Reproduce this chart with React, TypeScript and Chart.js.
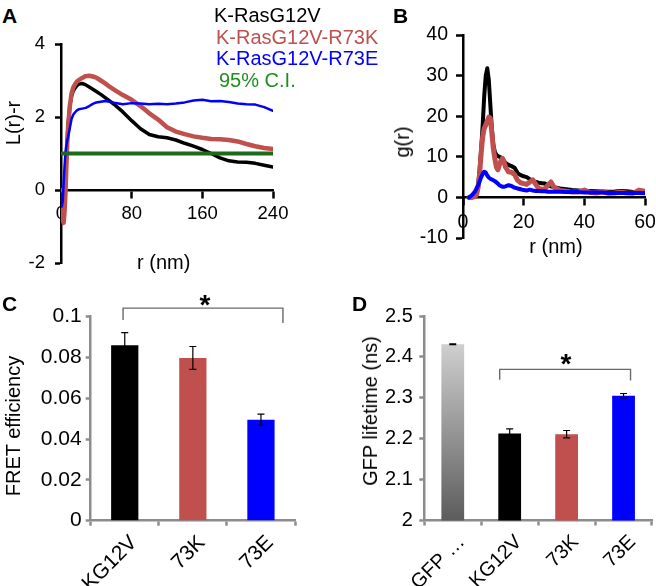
import React, { useEffect, useRef } from 'react';
import { Chart, registerables } from 'chart.js';
Chart.register(...registerables);

const FONT = '"Liberation Sans", Arial, Helvetica, sans-serif';

// ---------- Panel A : L(r)-r ----------
const rA = [0, 1, 2, 3, 4, 5, 6, 7, 8, 10, 12, 14, 16, 18, 20, 24, 28, 32, 36, 40, 45, 50, 55, 60, 70, 80, 90, 100, 110, 120, 130, 140, 150, 160, 170, 180, 190, 200, 210, 220, 230, 240];
const lrBlack = [0, -0.3, -0.6, -0.7, -0.4, 0.2, 0.8, 1.35, 1.8, 2.3, 2.58, 2.72, 2.8, 2.86, 2.9, 2.92, 2.88, 2.82, 2.76, 2.7, 2.62, 2.53, 2.44, 2.35, 2.14, 1.9, 1.68, 1.52, 1.46, 1.43, 1.37, 1.28, 1.2, 1.11, 1.0, 0.88, 0.8, 0.77, 0.76, 0.73, 0.68, 0.63];
const lrRed = [0, -0.35, -0.8, -0.9, -0.6, -0.1, 0.6, 1.25, 1.7, 2.3, 2.65, 2.82, 2.9, 2.97, 3.01, 3.07, 3.12, 3.13, 3.11, 3.08, 3.0, 2.92, 2.83, 2.75, 2.6, 2.47, 2.3, 2.1, 1.93, 1.72, 1.6, 1.53, 1.47, 1.43, 1.4, 1.39, 1.37, 1.33, 1.26, 1.2, 1.15, 1.12];
const lrBlue = [-0.1, -0.45, -0.3, 0.2, 0.65, 1.0, 1.2, 1.35, 1.45, 1.7, 1.95, 2.07, 2.13, 2.18, 2.21, 2.23, 2.25, 2.3, 2.36, 2.4, 2.42, 2.44, 2.42, 2.39, 2.35, 2.38, 2.37, 2.35, 2.36, 2.35, 2.37, 2.4, 2.45, 2.47, 2.43, 2.44, 2.41, 2.37, 2.35, 2.34, 2.27, 2.17];
const ciR = [0, 240];
const ciVal = [1, 1];
const legendNames = ['K-RasG12V', 'K-RasG12V-R73K', 'K-RasG12V-R73E', '95% C.I.'];
const xTicksA = [0, 80, 160, 240];

// ---------- Panel B : g(r) ----------
const rB = [2, 3, 4, 4.5, 5, 5.5, 6, 6.5, 7, 7.5, 8, 8.5, 9, 9.5, 10, 10.5, 11, 11.5, 12, 12.5, 13, 13.5, 14, 15, 16, 17, 18, 19, 20, 21, 22, 23, 24, 25, 26, 27, 28, 29, 30, 32, 34, 36, 38, 40, 42, 44, 46, 48, 50, 52, 54, 56, 58, 60];
const gBlack = [0, 0, 0.3, 1, 3, 7, 12, 18, 25, 30, 31.8, 29, 23, 17, 13, 11.2, 10.5, 10.2, 10, 9.8, 9.6, 9.0, 8.5, 8, 7.7, 7.3, 6, 5.5, 5.2, 5, 4.5, 4, 3.8, 3.6, 3.5, 3.4, 3, 2.7, 2.5, 2.2, 2.0, 1.8, 1.7, 1.6, 1.55, 1.5, 1.45, 1.4, 1.45, 1.6, 1.5, 1.35, 1.3, 1.25];
const gRed = [0, 0, 0.2, 0.8, 2.5, 6, 11, 15, 17, 17.8, 18.8, 19.8, 19.5, 16, 12, 9.5, 7.5, 6.8, 8, 9.0, 9.6, 8.8, 7.5, 6.3, 6.2, 5.6, 4.2, 3.6, 3.4, 3.2, 3.8, 4.3, 3.2, 2.2, 2.0, 2.1, 3.0, 3.8, 2.5, 1.7, 1.5, 1.3, 1.3, 1.8, 1.2, 1.1, 1.4, 1.0, 1.1, 1.3, 1.1, 1.0, 1.8, 1.5];
const gBlue = [0, 0.6, 1.5, 2.3, 3, 4, 5, 5.8, 6.3, 6.1, 5.4, 4.9, 4.6, 4.4, 4.2, 4.0, 3.7, 3.4, 3.0, 2.8, 2.6, 2.6, 2.7, 3.0, 2.8, 2.4, 2.2, 2.0, 1.8, 1.7, 1.9, 1.7, 1.6, 1.6, 1.5, 1.5, 1.4, 1.4, 1.4, 1.4, 1.3, 1.3, 1.3, 1.2, 1.2, 1.2, 1.2, 1.1, 1.1, 1.1, 1.1, 1.1, 1.1, 1.0];
const xTicksB = [0, 20, 40, 60];

// ---------- Panel C : FRET efficiency ----------
const fretCats = ['KG12V', '73K', '73E'];
const fretVals = [0.086, 0.0798, 0.0495];
const fretErr = [0.0062, 0.0056, 0.0027];

// ---------- Panel D : GFP lifetime ----------
const lifeCats = ['GFP …', 'KG12V', '73K', '73E'];
const lifeVals = [2.431, 2.213, 2.211, 2.305];
const lifeErr = [0.001, 0.011, 0.009, 0.0055];

const BLACK = '#000000';
const RED = '#c0504d';
const BLUE = '#0000ff';
const GREEN_LINE = '#1b6b1b';
const GREEN_TEXT = '#1f8f1f';
const GRAY_AXIS = '#8c8c8c';

const pts = (xs: number[], ys: number[]) => xs.map((x, i) => ({ x, y: ys[i] }));
const fmt = (v: any) => String(Number(Number(v).toFixed(4)));

const errorBarPlugin = {
  id: 'errbars',
  afterDatasetsDraw(chart: any, _args: any, opts: any) {
    const errs: number[] = opts.errors;
    if (!errs) return;
    const meta = chart.getDatasetMeta(0);
    const ys = chart.scales.y;
    const vals = chart.data.datasets[0].data;
    const ctx = chart.ctx;
    const cap = opts.cap || 3.5;
    ctx.save();
    ctx.strokeStyle = '#000';
    ctx.lineWidth = opts.lineWidth || 1.2;
    meta.data.forEach((el: any, i: number) => {
      const v = vals[i];
      const yt = ys.getPixelForValue(v + errs[i]);
      const yb = ys.getPixelForValue(v - errs[i]);
      ctx.beginPath();
      ctx.moveTo(el.x, yt); ctx.lineTo(el.x, yb);
      ctx.moveTo(el.x - cap, yt); ctx.lineTo(el.x + cap, yt);
      ctx.moveTo(el.x - cap, yb); ctx.lineTo(el.x + cap, yb);
      ctx.stroke();
    });
    ctx.restore();
  },
};

const bracketPlugin = {
  id: 'bracket',
  afterDraw(chart: any, _args: any, o: any) {
    if (!o || o.from === undefined) return;
    const meta = chart.getDatasetMeta(0);
    const ys = chart.scales.y;
    const x1 = meta.data[o.from].x + o.dxLeft;
    const x2 = meta.data[o.to].x + o.dxRight;
    const yTop = ys.getPixelForValue(o.top);
    const yL = ys.getPixelForValue(o.leftEnd);
    const yR = ys.getPixelForValue(o.rightEnd);
    const ctx = chart.ctx;
    ctx.save();
    ctx.strokeStyle = '#6a6a6a';
    ctx.lineWidth = 1.4;
    ctx.beginPath();
    ctx.moveTo(x1, yL); ctx.lineTo(x1, yTop); ctx.lineTo(x2, yTop); ctx.lineTo(x2, yR);
    ctx.stroke();
    ctx.restore();
  },
};

const noPadX = (s: any) => { s.paddingLeft = 0; s.paddingRight = 0; };
const noPadY = (s: any) => { s.paddingTop = 0; s.paddingBottom = 0; };

function lineAxes(opts: any) {
  const tickFont = { family: FONT, size: opts.fontSize };
  return {
    x: {
      type: 'linear', min: opts.xMin, max: opts.xMax, position: { y: 0 },
      afterBuildTicks: (s: any) => { s.ticks = opts.xTicks.map((v: number) => ({ value: v })); },
      ticks: { font: tickFont, color: '#000', padding: opts.xPad, maxRotation: 0, callback: fmt },
      grid: { display: true, drawOnChartArea: false, drawTicks: true, tickLength: 7, tickWidth: 2.5, tickColor: '#000' },
      border: { display: true, color: '#000', width: 2.5 },
      afterFit: noPadX,
    },
    y: {
      type: 'linear', min: opts.yMin, max: opts.yMax,
      ticks: { stepSize: opts.yStep, font: tickFont, color: '#000', padding: opts.yPad, callback: fmt },
      grid: { display: true, drawOnChartArea: false, drawTicks: true, tickLength: opts.yTl, tickWidth: 2.5, tickColor: '#000' },
      border: { display: true, color: '#000', width: 2.5 },
      afterFit: (s: any) => { s.width = opts.yWidth; noPadY(s); },
    },
  };
}

function barAxes(opts: any) {
  const tickFont = { family: FONT, size: opts.fontSize };
  return {
    x: {
      type: 'category',
      ticks: { font: tickFont, color: '#000', minRotation: 45, maxRotation: 45, padding: 5, labelOffset: opts.labelOffset, autoSkip: false },
      grid: { display: true, drawOnChartArea: false, drawTicks: true, tickLength: 5, tickWidth: 2.5, tickColor: GRAY_AXIS, offset: true },
      border: { display: true, color: GRAY_AXIS, width: 2.5 },
      afterFit: (s: any) => { s.height = opts.xHeight; noPadX(s); },
    },
    y: {
      type: 'linear', min: opts.yMin, max: opts.yMax,
      ticks: { stepSize: opts.yStep, font: tickFont, color: '#000', padding: opts.yPad, callback: fmt },
      grid: { display: true, drawOnChartArea: false, drawTicks: true, tickLength: 5, tickWidth: 2.5, tickColor: GRAY_AXIS },
      border: { display: true, color: GRAY_AXIS, width: 2.5 },
      afterFit: (s: any) => { s.width = opts.yWidth; noPadY(s); },
    },
  };
}

const lineDs = (label: string, data: any[], color: string, width: number, order: number) => ({
  label, data, borderColor: color, backgroundColor: color, borderWidth: width, pointRadius: 0,
  tension: 0, fill: false, order, borderJoinStyle: 'round', borderCapStyle: 'round',
});

function makeA(): any {
  return {
    type: 'line',
    data: {
      datasets: [
        lineDs(legendNames[0], pts(rA, lrBlack), BLACK, 3.5, 3),
        lineDs(legendNames[1], pts(rA, lrRed), RED, 4.5, 2),
        lineDs(legendNames[2], pts(rA, lrBlue), BLUE, 2.5, 1),
        lineDs(legendNames[3], pts(ciR, ciVal), GREEN_LINE, 4, 0),
      ],
    },
    options: {
      animation: false, responsive: false,
      layout: { padding: { left: 0, top: 14, right: 27, bottom: 17 } },
      plugins: { legend: { display: false }, tooltip: { enabled: false } },
      scales: lineAxes({ fontSize: 18.5, xMin: 0, xMax: 240, xTicks: xTicksA, xPad: 6, yMin: -2, yMax: 4, yStep: 2, yPad: 10, yTl: 6, yWidth: 61 }),
    },
  };
}

function makeB(): any {
  return {
    type: 'line',
    data: {
      datasets: [
        lineDs(legendNames[0], pts(rB, gBlack), BLACK, 4, 3),
        lineDs(legendNames[1], pts(rB, gRed), RED, 5, 2),
        lineDs(legendNames[2], pts(rB, gBlue), BLUE, 4, 1),
      ],
    },
    options: {
      animation: false, responsive: false,
      layout: { padding: { left: 0, top: 15, right: 11, bottom: 22 } },
      plugins: { legend: { display: false }, tooltip: { enabled: false } },
      scales: lineAxes({ fontSize: 19.5, xMin: 0, xMax: 60, xTicks: xTicksB, xPad: 7, yMin: -10, yMax: 40, yStep: 10, yPad: 8, yTl: 7, yWidth: 123 }),
    },
  };
}

function makeC(): any {
  return {
    type: 'bar',
    data: {
      labels: fretCats,
      datasets: [{ data: fretVals, backgroundColor: [BLACK, RED, BLUE], barPercentage: 0.4, categoryPercentage: 1, borderWidth: 0 }],
    },
    options: {
      animation: false, responsive: false,
      layout: { padding: { left: 0, top: 21.7, right: 25, bottom: 0 } },
      plugins: {
        legend: { display: false }, tooltip: { enabled: false },
        errbars: { errors: fretErr, cap: 3.5, lineWidth: 1.2 },
        bracket: { from: 0, to: 2, dxLeft: -1.7, dxRight: 22, top: 0.1042, leftEnd: 0.0984, rightEnd: 0.0969 },
      },
      scales: barAxes({ fontSize: 21, yMin: 0, yMax: 0.1, yStep: 0.02, yPad: 4, yWidth: 90.7, xHeight: 65.3, labelOffset: 9 }),
    },
    plugins: [errorBarPlugin, bracketPlugin],
  };
}

function makeD(): any {
  const bg = (ctx: any) => {
    if (ctx.dataIndex !== 0) return [BLACK, BLACK, RED, BLUE][ctx.dataIndex];
    const chart = ctx.chart;
    if (!chart.chartArea || !chart.scales.y) return '#999';
    const y0 = chart.scales.y.getPixelForValue(lifeVals[0]);
    const y1 = chart.scales.y.getPixelForValue(2);
    const g = chart.ctx.createLinearGradient(0, y0, 0, y1);
    g.addColorStop(0, '#cfcfcf');
    g.addColorStop(1, '#5c5c5c');
    return g;
  };
  return {
    type: 'bar',
    data: {
      labels: lifeCats,
      datasets: [{ data: lifeVals, backgroundColor: bg, barPercentage: 0.4, categoryPercentage: 1, borderWidth: 0 }],
    },
    options: {
      animation: false, responsive: false,
      layout: { padding: { left: 0, top: 21, right: 4, bottom: 0 } },
      plugins: {
        legend: { display: false }, tooltip: { enabled: false },
        errbars: { errors: lifeErr, cap: 3.5, lineWidth: 1.2 },
        bracket: { from: 1, to: 3, dxLeft: -10, dxRight: 7, top: 2.3696, leftEnd: 2.344, rightEnd: 2.3425 },
      },
      scales: barAxes({ fontSize: 20, yMin: 2, yMax: 2.5, yStep: 0.1, yPad: 6.5, yWidth: 94.3, xHeight: 65.5, labelOffset: 9 }),
    },
    plugins: [errorBarPlugin, bracketPlugin],
  };
}

function ChartCanvas({ left, top, width, height, make }: { left: number; top: number; width: number; height: number; make: () => any }) {
  const ref = useRef<HTMLCanvasElement>(null);
  useEffect(() => {
    const chart = new Chart(ref.current as HTMLCanvasElement, make());
    return () => chart.destroy();
  }, []);
  return <canvas ref={ref} width={width} height={height} style={{ position: 'absolute', left, top, width, height }} />;
}

function Txt({ x, y, children, size = 20, color = '#000', weight = 400, align = 'left', rotate = 0 }: any) {
  const tx = align === 'left' ? '0' : align === 'center' ? '-50%' : '-100%';
  return (
    <div style={{
      position: 'absolute', left: x, top: y,
      transform: `translate(${tx},-50%)${rotate ? ` rotate(${rotate}deg)` : ''}`,
      fontFamily: FONT, fontSize: size, fontWeight: weight, color, lineHeight: 1, whiteSpace: 'nowrap',
    }}>{children}</div>
  );
}

export default function App() {
  return (
    <div style={{ position: 'absolute', left: 0, top: 0, width: 656, height: 586, background: '#fff', overflow: 'hidden' }}>
      <ChartCanvas left={0} top={30} width={300} height={250} make={makeA} />
      <ChartCanvas left={340} top={20} width={316} height={240} make={makeB} />
      <ChartCanvas left={0} top={295} width={320} height={291} make={makeC} />
      <ChartCanvas left={330} top={295} width={326} height={291} make={makeD} />

      <Txt x={2} y={14.5} size={21} weight={700}>A</Txt>
      <Txt x={393} y={14.5} size={21} weight={700}>B</Txt>
      <Txt x={2} y={302.5} size={21} weight={700}>C</Txt>
      <Txt x={352} y={302.5} size={21} weight={700}>D</Txt>

      <Txt x={214} y={15} color={BLACK}>{legendNames[0]}</Txt>
      <Txt x={216} y={37} color={RED}>{legendNames[1]}</Txt>
      <Txt x={216} y={58} color={BLUE}>{legendNames[2]}</Txt>
      <Txt x={219} y={80} color={GREEN_TEXT}>{legendNames[3]}</Txt>

      <Txt x={12.5} y={123} align="center" rotate={-90}>L(r)-r</Txt>
      <Txt x={163.7} y={262} align="center">r (nm)</Txt>
      <Txt x={402} y={142} align="center" rotate={-90}>g(r)</Txt>
      <Txt x={556} y={246} align="center">r (nm)</Txt>
      <Txt x={13} y={426} align="center" rotate={-90}>FRET efficiency</Txt>
      <Txt x={369.5} y={411} align="center" rotate={-90}>GFP lifetime (ns)</Txt>

      <Txt x={205} y={305} align="center" size={28} weight={700}>*</Txt>
      <Txt x={566} y={364} align="center" size={28} weight={700}>*</Txt>
    </div>
  );
}
